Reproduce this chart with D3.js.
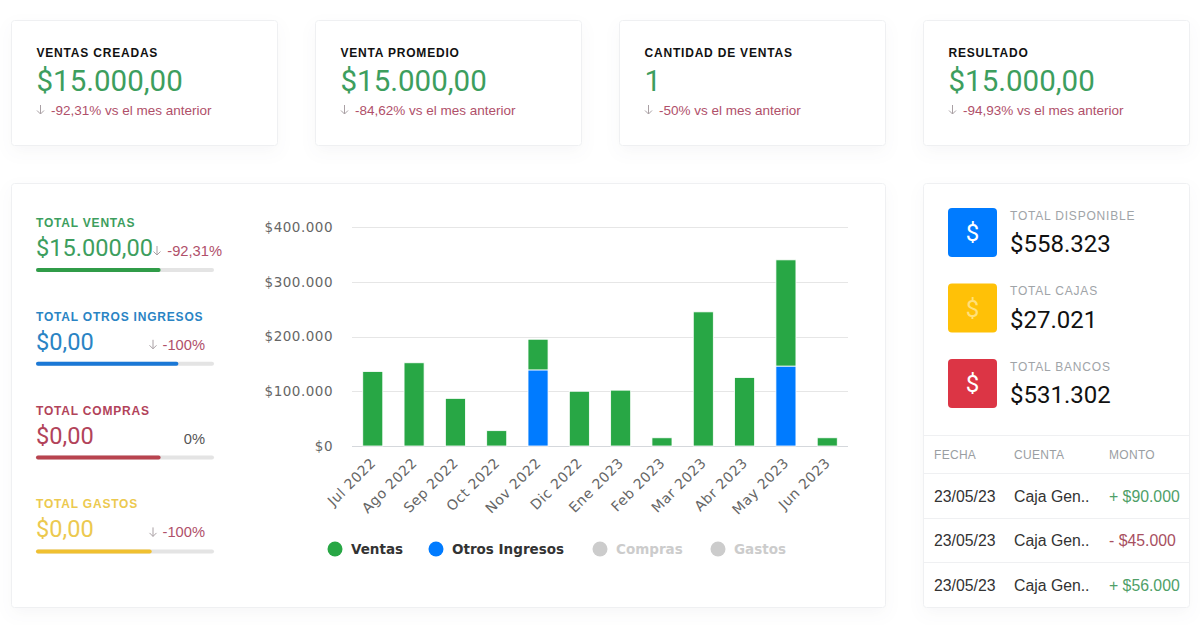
<!DOCTYPE html>
<html lang="es">
<head>
  <meta charset="UTF-8">
  <title>Dashboard ventas</title>
  <script src="https://d3js.org/d3.v7.min.js"></script>
  <style>
    html, body { margin: 0; padding: 0; background: #fff; overflow: hidden; }
    svg { display: block; }
    text { font-family: "Liberation Sans", Arial, sans-serif; }
    .card { fill: #fff; stroke: #eff0f2; stroke-width: 1; filter: drop-shadow(0 6px 8px rgba(40,50,70,0.04)); }
    .roboto { font-family: Roboto, sans-serif; }
    .grid line { stroke: #e6e6e6; }
    .axis text { font-family: "DejaVu Sans", sans-serif; font-size: 13.5px; fill: #666; letter-spacing: 0.5px; }
    .axis path, .axis line { display: none; }
    .legend text { font-family: "DejaVu Sans", sans-serif; font-size: 13.5px; font-weight: bold; }
  </style>
</head>
<body>
<svg id="page" width="1200" height="625"></svg>
<script>
  // kpi cards
  const kpiTitles = ["VENTAS CREADAS", "VENTA PROMEDIO", "CANTIDAD DE VENTAS", "RESULTADO"];
  const kpiValues = ["$15.000,00", "$15.000,00", "1", "$15.000,00"];
  const kpiChanges = ["-92,31% vs el mes anterior", "-84,62% vs el mes anterior", "-50% vs el mes anterior", "-94,93% vs el mes anterior"];

  // totals on the left
  const totalTitles = ["TOTAL VENTAS", "TOTAL OTROS INGRESOS", "TOTAL COMPRAS", "TOTAL GASTOS"];
  const totalValues = ["$15.000,00", "$0,00", "$0,00", "$0,00"];
  const totalChanges = ["-92,31%", "-100%", "0%", "-100%"];
  const totalProgress = [0.70, 0.80, 0.70, 0.65];
  const totalColors = ["#3d9e5e", "#2a84c4", "#b2435a", "#ecc94f"];
  const barColors = ["#309c48", "#1a78d6", "#b8434f", "#f0c030"];

  // chart
  const months = ["Jul 2022", "Ago 2022", "Sep 2022", "Oct 2022", "Nov 2022", "Dic 2022", "Ene 2023", "Feb 2023", "Mar 2023", "Abr 2023", "May 2023", "Jun 2023"];
  const otrosIngresos = [0, 0, 0, 0, 139000, 0, 0, 0, 0, 0, 146000, 0];
  const ventas = [136000, 152000, 87000, 28000, 56000, 100000, 102000, 15000, 245000, 125000, 194000, 15000];
  const yTicks = [0, 100000, 200000, 300000, 400000];
  const legendNames = ["Ventas", "Otros Ingresos", "Compras", "Gastos"];
  const legendColors = ["#28a745", "#007bff", "#cccccc", "#cccccc"];
  const legendText = ["#333", "#333", "#ccc", "#ccc"];

  // right panel
  const balanceTitles = ["TOTAL DISPONIBLE", "TOTAL CAJAS", "TOTAL BANCOS"];
  const balanceValues = ["$558.323", "$27.021", "$531.302"];
  const balanceColors = ["#007bff", "#ffc107", "#dc3545"];
  const tableHeaders = ["FECHA", "CUENTA", "MONTO"];
  const tableDates = ["23/05/23", "23/05/23", "23/05/23"];
  const tableAccounts = ["Caja Gen..", "Caja Gen..", "Caja Gen.."];
  const tableAmounts = ["+ $90.000", "- $45.000", "+ $56.000"];
  const amountColors = ["#4f9f68", "#a8505f", "#4f9f68"];

  const green = "#3d9e5e", red = "#b0506a";
  const svg = d3.select("#page");

  function label(g, x, y, str, size, fill, opts = {}) {
    return g.append("text")
      .attr("x", x).attr("y", y)
      .attr("font-size", size)
      .attr("fill", fill)
      .attr("font-weight", opts.weight || null)
      .attr("letter-spacing", opts.spacing || null)
      .attr("text-anchor", opts.anchor || null)
      .attr("class", opts.cls || null)
      .text(str);
  }

  // small arrow pointing down, in front of the % numbers
  function arrow(g, x, y) {
    g.append("path")
      .attr("d", `M${x},${y - 9}V${y} M${x - 3.5},${y - 3.5}L${x},${y}L${x + 3.5},${y - 3.5}`)
      .attr("fill", "none").attr("stroke", "#a9a0a4").attr("stroke-width", 1);
  }

  // ---- top cards
  kpiTitles.forEach((t, i) => {
    const x = 11 + i * 304;
    const g = svg.append("g");
    g.append("rect").attr("class", "card").attr("x", x + 0.5).attr("y", 20.5).attr("width", 266).attr("height", 125).attr("rx", 3);
    label(g, x + 25.5, 57, t, 12, "#111", { weight: "bold", spacing: "0.8px" });
    label(g, x + 25.5, 91, kpiValues[i], 29.5, green, { cls: "roboto" });
    arrow(g, x + 29.5, 114);
    label(g, x + 40, 115, kpiChanges[i], 13.5, red);
  });

  // ---- main panel
  svg.append("rect").attr("class", "card").attr("x", 11.5).attr("y", 183.5).attr("width", 874).attr("height", 424).attr("rx", 3);
  svg.append("rect").attr("class", "card").attr("x", 923.5).attr("y", 183.5).attr("width", 266).attr("height", 424).attr("rx", 3);

  const progress = d3.scaleLinear().domain([0, 1]).range([0, 178]);
  const changeX = [222, 205, 205, 205];
  totalTitles.forEach((t, i) => {
    const y = 227 + i * 93.8;
    const g = svg.append("g");
    label(g, 36, y, t, 12, totalColors[i], { weight: "bold", spacing: "0.8px" });
    label(g, 36, y + 29, totalValues[i], 23.6, totalColors[i], { cls: "roboto" });
    label(g, changeX[i], y + 29, totalChanges[i], 14.7, totalChanges[i] === "0%" ? "#555" : red, { anchor: "end" });
    if (totalChanges[i] !== "0%") arrow(g, i === 0 ? 157 : 153, y + 28);
    g.append("rect").attr("x", 36).attr("y", y + 41).attr("width", progress(1)).attr("height", 4).attr("rx", 2).attr("fill", "#e4e4e4");
    g.append("rect").attr("x", 36).attr("y", y + 41).attr("width", progress(totalProgress[i])).attr("height", 4).attr("rx", 2).attr("fill", barColors[i]);
  });

  // ---- stacked bars
  const x = d3.scaleBand().domain(months).range([352, 848]).paddingInner(0.515).paddingOuter(0.26);
  const y = d3.scaleLinear().domain([0, 400000]).range([446, 227]);

  svg.append("g").attr("class", "grid")
    .selectAll("line").data(yTicks).join("line")
    .attr("x1", 352).attr("x2", 848)
    .attr("y1", d => Math.round(y(d)) + 0.5).attr("y2", d => Math.round(y(d)) + 0.5)
    .style("stroke", d => d === 0 ? "#d5d8dc" : null);

  const table = months.map((m, i) => ({ month: m, otros: otrosIngresos[i], ventas: ventas[i] }));
  const stack = d3.stack().keys(["otros", "ventas"])(table);
  const stackColor = { otros: "#007bff", ventas: "#28a745" };

  svg.append("g").selectAll("g").data(stack).join("g")
    .attr("fill", d => stackColor[d.key])
    .selectAll("rect").data(d => d.filter(p => p[1] > p[0])).join("rect")
    .attr("x", d => x(d.data.month))
    .attr("y", d => y(d[1]))
    .attr("width", x.bandwidth())
    .attr("height", d => y(d[0]) - y(d[1]))
    .attr("stroke", "#fff").attr("stroke-width", 0.8);

  svg.append("g").attr("class", "axis")
    .attr("transform", "translate(352,0)")
    .call(d3.axisLeft(y).tickValues(yTicks).tickSize(0).tickPadding(19)
      .tickFormat(d => "$" + d3.format(",")(d).replace(/,/g, ".")));

  svg.append("g").attr("class", "axis")
    .attr("transform", "translate(-5,446)")
    .call(d3.axisBottom(x).tickSize(0))
    .selectAll("text")
    .style("font-size", "14px")
    .attr("text-anchor", "end")
    .attr("dx", "-0.45em").attr("dy", "0.7em")
    .attr("y", 9)
    .attr("transform", "rotate(-45)");

  // ---- legend
  const legendX = [335, 436, 600, 718];
  const legend = svg.append("g").attr("class", "legend");
  legendNames.forEach((n, i) => {
    legend.append("circle").attr("cx", legendX[i]).attr("cy", 549).attr("r", 7.5).attr("fill", legendColors[i]);
    legend.append("text").attr("x", legendX[i] + 16).attr("y", 554).attr("fill", legendText[i]).text(n);
  });

  // ---- right panel
  balanceTitles.forEach((t, i) => {
    const top = 208 + i * 75.5;
    const g = svg.append("g");
    g.append("rect").attr("x", 948).attr("y", top).attr("width", 49).attr("height", 49).attr("rx", 4).attr("fill", balanceColors[i]);
    label(g, 972.5, top + 33, "$", 24, i === 1 ? "#ffe07a" : "#fff", { anchor: "middle", cls: "roboto" });
    label(g, 1010, top + 11.5, t, 12, "#a0a4a8", { spacing: "0.8px" });
    label(g, 1010, top + 44, balanceValues[i], 24, "#111", { cls: "roboto" });
  });

  const colX = [934, 1014, 1109];
  const divider = y0 => svg.append("line").attr("x1", 924).attr("x2", 1189).attr("y1", y0 + 0.5).attr("y2", y0 + 0.5).attr("stroke", "#eff0f2");
  [435, 473, 518, 562].forEach(divider);
  tableHeaders.forEach((h, i) => label(svg, colX[i], 459, h, 12, "#9a9ea2", { spacing: "0.3px" }));
  tableDates.forEach((d, i) => {
    const base = 501.5 + i * 44.5;
    label(svg, colX[0], base, d, 15.8, "#333");
    label(svg, colX[1], base, tableAccounts[i], 15.8, "#333");
    label(svg, colX[2], base, tableAmounts[i], 15.8, amountColors[i]);
  });
</script>
</body>
</html>
